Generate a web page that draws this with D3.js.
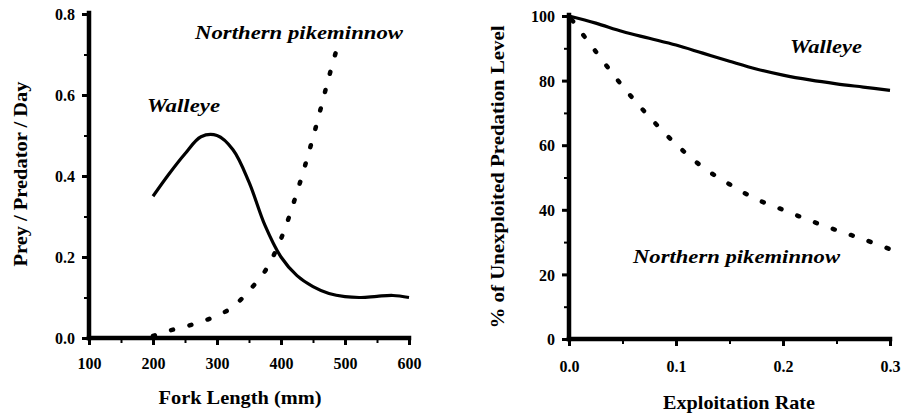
<!DOCTYPE html>
<html>
<head>
<meta charset="utf-8">
<script src="https://cdn.jsdelivr.net/npm/d3@7"></script>
<style>
  body { margin: 0; background: #fff; }
</style>
</head>
<body>
<div id="chart"></div>
<script>
// left panel: consumption vs fork length
var forkLength = [200, 225, 250, 275, 300, 325, 350, 375, 400, 425, 450, 475, 500, 525, 550, 575, 600];
var walleyeRate = [0.35, 0.405, 0.455, 0.497, 0.50, 0.465, 0.385, 0.278, 0.2, 0.154, 0.127, 0.11, 0.102, 0.10, 0.103, 0.105, 0.10];
var pikeLength = [200, 225, 250, 275, 300, 325, 350, 375, 400, 425, 450, 475, 490];
var pikeRate = [0.005, 0.018, 0.028, 0.04, 0.055, 0.077, 0.117, 0.165, 0.245, 0.36, 0.495, 0.645, 0.73];
var lengthTicks = [100, 200, 300, 400, 500, 600];
var rateTicks = [0, 0.2, 0.4, 0.6, 0.8];

// right panel: predation vs exploitation
var exploitation = [0, 0.025, 0.05, 0.075, 0.1, 0.125, 0.15, 0.175, 0.2, 0.225, 0.25, 0.275, 0.3];
var walleyePct = [100, 97.8, 95.2, 93.1, 91, 88.5, 86, 83.6, 81.7, 80.2, 79, 78, 77];
var pikePct = [100, 89, 78.3, 68.8, 60.3, 53.2, 47.9, 43.3, 40, 36.7, 33.7, 30.9, 27.8];
var exploitTicks = [0, 0.1, 0.2, 0.3];
var pctTicks = [0, 20, 40, 60, 80, 100];

var serif = "Liberation Serif";

var svg = d3.select("#chart").append("svg")
  .attr("width", 902)
  .attr("height", 416);

function styleText(sel, size, italic) {
  sel.attr("font-family", serif)
    .attr("font-weight", "bold")
    .attr("font-style", italic ? "italic" : "normal")
    .attr("font-size", size)
    .attr("fill", "#000");
}

function drawPanel(p) {
  var x = d3.scaleLinear().domain(p.xDomain).range(p.xRange);
  var y = d3.scaleLinear().domain(p.yDomain).range(p.yRange);
  var g = svg.append("g");

  // minor ticks
  g.append("g")
    .attr("transform", "translate(0," + p.yRange[0] + ")")
    .call(d3.axisBottom(x).tickValues(p.xMinor).tickSize(5).tickFormat(""))
    .call(function(a) { a.select(".domain").remove(); a.selectAll("line").attr("stroke-width", 2); });
  g.append("g")
    .attr("transform", "translate(" + p.xRange[0] + ",0)")
    .call(d3.axisLeft(y).tickValues(p.yMinor).tickSize(5).tickFormat(""))
    .call(function(a) { a.select(".domain").remove(); a.selectAll("line").attr("stroke-width", 2); });

  var xAxis = g.append("g")
    .attr("transform", "translate(0," + p.yRange[0] + ")")
    .call(d3.axisBottom(x).tickValues(p.xTicks).tickSize(7).tickSizeOuter(0).tickFormat(p.xFormat));
  xAxis.selectAll("text").attr("y", p.xLabelY).attr("dy", 0).call(styleText, 16, false);
  var yAxis = g.append("g")
    .attr("transform", "translate(" + p.xRange[0] + ",0)")
    .call(d3.axisLeft(y).tickValues(p.yTicks).tickSize(7).tickSizeOuter(0).tickFormat(p.yFormat));
  yAxis.selectAll("text").attr("x", -p.yLabelGap).attr("dy", "0.35em").call(styleText, 16, false);
  [xAxis, yAxis].forEach(function(a) {
    a.select(".domain").remove();
    a.selectAll(".tick line").attr("stroke", "#000").attr("stroke-width", 3);
  });

  // heavy axis lines
  g.append("line")
    .attr("x1", p.xRange[0]).attr("x2", p.xRange[0])
    .attr("y1", p.yRange[0]).attr("y2", p.yRange[1] - 1)
    .attr("stroke", "#000").attr("stroke-width", 4.5).attr("stroke-linecap", "square");
  g.append("line")
    .attr("x1", p.xRange[0]).attr("x2", p.xRange[1])
    .attr("y1", p.yRange[0]).attr("y2", p.yRange[0])
    .attr("stroke", "#000").attr("stroke-width", 4.5).attr("stroke-linecap", "square");

  var line = d3.line()
    .x(function(d) { return x(d[0]); })
    .y(function(d) { return y(d[1]); })
    .curve(d3.curveCatmullRom.alpha(0.5));

  g.append("path")
    .datum(d3.zip(p.solidX, p.solidY))
    .attr("d", line)
    .attr("fill", "none")
    .attr("stroke", "#000")
    .attr("stroke-width", 3.2);

  g.append("path")
    .datum(d3.zip(p.dotX, p.dotY))
    .attr("d", line)
    .attr("fill", "none")
    .attr("stroke", "#000")
    .attr("stroke-width", 4.5)
    .attr("stroke-linecap", "round")
    .attr("stroke-dasharray", "2,17")
    .attr("stroke-dashoffset", p.dotOffset);

  g.append("text")
    .attr("x", p.xTitle[0]).attr("y", p.xTitle[1])
    .attr("text-anchor", "middle")
    .attr("textLength", p.xTitle[2]).attr("lengthAdjust", "spacingAndGlyphs")
    .call(styleText, 19, false)
    .text(p.xTitle[3]);
  g.append("text")
    .attr("transform", "translate(" + p.yTitle[0] + "," + p.yTitle[1] + ") rotate(-90)")
    .attr("text-anchor", "middle")
    .attr("textLength", p.yTitle[2]).attr("lengthAdjust", "spacingAndGlyphs")
    .call(styleText, 19, false)
    .text(p.yTitle[3]);

  p.labels.forEach(function(l) {
    g.append("text")
      .attr("x", l[0]).attr("y", l[1])
      .attr("textLength", l[2]).attr("lengthAdjust", "spacingAndGlyphs")
      .call(styleText, 19, true)
      .text(l[3]);
  });
}

drawPanel({
  xDomain: [100, 600], xRange: [89, 409],
  yDomain: [0, 0.8], yRange: [338, 14],
  xTicks: lengthTicks, yTicks: rateTicks,
  xMinor: [150, 250, 350, 450, 550], yMinor: [0.1, 0.3, 0.5, 0.7],
  xFormat: d3.format("d"), yFormat: d3.format(".1f"),
  xLabelY: 31, yLabelGap: 14,
  solidX: forkLength, solidY: walleyeRate,
  dotX: pikeLength, dotY: pikeRate, dotOffset: 0,
  xTitle: [240, 404, 163, "Fork Length (mm)"],
  yTitle: [27, 174, 185, "Prey / Predator / Day"],
  labels: [[147, 112, 73, "Walleye"], [195, 39, 208, "Northern pikeminnow"]]
});

drawPanel({
  xDomain: [0, 0.3], xRange: [569, 890],
  yDomain: [0, 100], yRange: [339, 16],
  xTicks: exploitTicks, yTicks: pctTicks,
  xMinor: [0.05, 0.15, 0.25], yMinor: [10, 30, 50, 70, 90],
  xFormat: d3.format(".1f"), yFormat: d3.format("d"),
  xLabelY: 33, yLabelGap: 14,
  solidX: exploitation, solidY: walleyePct,
  dotX: exploitation, dotY: pikePct, dotOffset: 14,
  xTitle: [739, 409, 152, "Exploitation Rate"],
  yTitle: [504, 177, 303, "% of Unexploited Predation Level"],
  labels: [[790, 53, 72, "Walleye"], [633, 263, 207, "Northern pikeminnow"]]
});
</script>
</body>
</html>
